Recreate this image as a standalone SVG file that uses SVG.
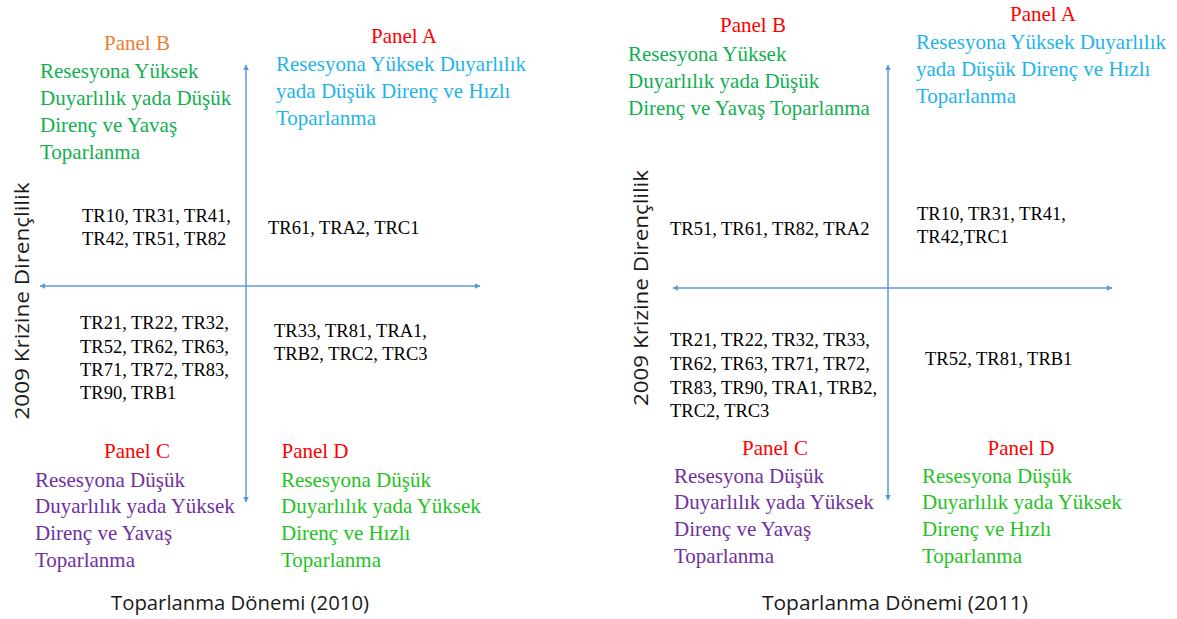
<svg xmlns="http://www.w3.org/2000/svg" width="1177" height="619" viewBox="0 0 1177 619">
<style>
.t{font-family:"Liberation Serif","Times New Roman",serif;font-size:21px}
.l{font-family:"Liberation Serif","Times New Roman",serif;font-size:18.5px;fill:#000}
.ax{font-family:"Open Sans","Liberation Sans",sans-serif;font-size:20px;fill:#1a1a1a}
.red{fill:#FF0000}.org{fill:#ED7D31}.blu{fill:#1EB4EA}.grn{fill:#10B050}.lgr{fill:#22C322}.pur{fill:#7030A0}
.axis{stroke:#5B9BD5;stroke-width:1.5;fill:none;marker-start:url(#ah);marker-end:url(#ah)}
</style>
<defs>
<marker id="ah" viewBox="0 0 10 10" refX="9" refY="5" markerWidth="6" markerHeight="6" orient="auto-start-reverse" markerUnits="userSpaceOnUse">
<path d="M0,0 L10,5 L0,10 z" fill="#5B9BD5"/>
</marker>
</defs>
<rect width="1177" height="619" fill="#fff"/>
<g id="connectors">
<line class="axis" x1="246" y1="502" x2="246" y2="65"/>
<line class="axis" x1="40" y1="286" x2="480" y2="286"/>
<line class="axis" x1="888" y1="500" x2="888" y2="65"/>
<line class="axis" x1="673" y1="288" x2="1112" y2="288"/>
</g>
<g id="left-chart">
<g id="L-panelB">
<text class="t org" x="137" y="50" text-anchor="middle">Panel B</text>
<text class="t grn" x="40" y="78">Resesyona Yüksek</text>
<text class="t grn" x="40" y="105">Duyarlılık yada Düşük</text>
<text class="t grn" x="40" y="132">Direnç ve Yavaş</text>
<text class="t grn" x="40" y="159">Toparlanma</text>
</g>
<g id="L-panelA">
<text class="t red" x="404" y="43" text-anchor="middle">Panel A</text>
<text class="t blu" x="276" y="71">Resesyona Yüksek Duyarlılık</text>
<text class="t blu" x="276" y="98">yada Düşük Direnç ve Hızlı</text>
<text class="t blu" x="276" y="125">Toparlanma</text>
</g>
<g id="L-listB">
<text class="l" x="82" y="222">TR10, TR31, TR41,</text>
<text class="l" x="82" y="245">TR42, TR51, TR82</text>
</g>
<g id="L-listA">
<text class="l" x="268" y="234">TR61, TRA2, TRC1</text>
</g>
<g id="L-listC">
<text class="l" x="80" y="329">TR21, TR22, TR32,</text>
<text class="l" x="80" y="353">TR52, TR62, TR63,</text>
<text class="l" x="80" y="376">TR71, TR72, TR83,</text>
<text class="l" x="80" y="399">TR90, TRB1</text>
</g>
<g id="L-listD">
<text class="l" x="274" y="337">TR33, TR81, TRA1,</text>
<text class="l" x="274" y="360">TRB2, TRC2, TRC3</text>
</g>
<g id="L-panelC">
<text class="t red" x="137" y="458" text-anchor="middle">Panel C</text>
<text class="t pur" x="35" y="487">Resesyona Düşük</text>
<text class="t pur" x="35" y="513">Duyarlılık yada Yüksek</text>
<text class="t pur" x="35" y="540">Direnç ve Yavaş</text>
<text class="t pur" x="35" y="567">Toparlanma</text>
</g>
<g id="L-panelD">
<text class="t red" x="315" y="458" text-anchor="middle">Panel D</text>
<text class="t lgr" x="281" y="487">Resesyona Düşük</text>
<text class="t lgr" x="281" y="513">Duyarlılık yada Yüksek</text>
<text class="t lgr" x="281" y="540">Direnç ve Hızlı</text>
<text class="t lgr" x="281" y="567">Toparlanma</text>
</g>
<text id="L-xlabel" class="ax" x="240" y="610" text-anchor="middle" textLength="258" lengthAdjust="spacingAndGlyphs">Toparlanma Dönemi (2010)</text>
<text id="L-ylabel" class="ax" transform="translate(29,301) rotate(-90)" text-anchor="middle" textLength="237" lengthAdjust="spacingAndGlyphs">2009 Krizine Dirençlilik</text>
</g>
<g id="right-chart">
<g id="R-panelB">
<text class="t red" x="753" y="32" text-anchor="middle">Panel B</text>
<text class="t grn" x="628" y="61">Resesyona Yüksek</text>
<text class="t grn" x="628" y="88">Duyarlılık yada Düşük</text>
<text class="t grn" x="628" y="115">Direnç ve Yavaş Toparlanma</text>
</g>
<g id="R-panelA">
<text class="t red" x="1043" y="21" text-anchor="middle">Panel A</text>
<text class="t blu" x="916" y="49">Resesyona Yüksek Duyarlılık</text>
<text class="t blu" x="916" y="76">yada Düşük Direnç ve Hızlı</text>
<text class="t blu" x="916" y="103">Toparlanma</text>
</g>
<g id="R-listB">
<text class="l" x="670" y="235">TR51, TR61, TR82, TRA2</text>
</g>
<g id="R-listA">
<text class="l" x="917" y="220">TR10, TR31, TR41,</text>
<text class="l" x="917" y="243">TR42,TRC1</text>
</g>
<g id="R-listC">
<text class="l" x="670" y="346">TR21, TR22, TR32, TR33,</text>
<text class="l" x="670" y="370">TR62, TR63, TR71, TR72,</text>
<text class="l" x="670" y="394">TR83, TR90, TRA1, TRB2,</text>
<text class="l" x="670" y="417">TRC2, TRC3</text>
</g>
<g id="R-listD">
<text class="l" x="925" y="365">TR52, TR81, TRB1</text>
</g>
<g id="R-panelC">
<text class="t red" x="775" y="455" text-anchor="middle">Panel C</text>
<text class="t pur" x="674" y="483">Resesyona Düşük</text>
<text class="t pur" x="674" y="509">Duyarlılık yada Yüksek</text>
<text class="t pur" x="674" y="536">Direnç ve Yavaş</text>
<text class="t pur" x="674" y="563">Toparlanma</text>
</g>
<g id="R-panelD">
<text class="t red" x="1021" y="455" text-anchor="middle">Panel D</text>
<text class="t lgr" x="922" y="483">Resesyona Düşük</text>
<text class="t lgr" x="922" y="509">Duyarlılık yada Yüksek</text>
<text class="t lgr" x="922" y="536">Direnç ve Hızlı</text>
<text class="t lgr" x="922" y="563">Toparlanma</text>
</g>
<text id="R-xlabel" class="ax" x="895" y="610" text-anchor="middle" textLength="266" lengthAdjust="spacingAndGlyphs">Toparlanma Dönemi (2011)</text>
<text id="R-ylabel" class="ax" transform="translate(648,288) rotate(-90)" text-anchor="middle" textLength="236" lengthAdjust="spacingAndGlyphs">2009 Krizine Dirençlilik</text>
</g>
</svg>
